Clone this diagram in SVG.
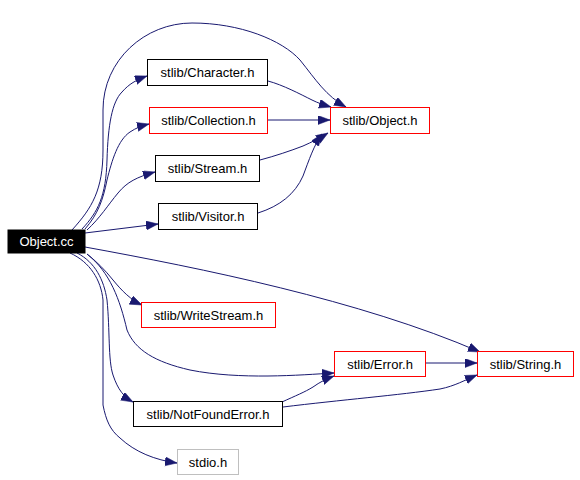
<svg xmlns="http://www.w3.org/2000/svg" width="580" height="480" viewBox="0 0 580 480">
<style>
.n rect{fill:#fff;stroke:#000;stroke-width:1}
.n.r rect{stroke:#f00}
.n.g rect{stroke:#bfbfbf}
.n text{font-family:"Liberation Sans",Arial,sans-serif;font-size:13px;text-anchor:middle;fill:#000}
#e path{fill:none;stroke:#191970;stroke-width:1;marker-end:url(#a)}
</style>
<defs>
<marker id="a" markerUnits="userSpaceOnUse" markerWidth="13" markerHeight="10" refX="12" refY="4.5" orient="auto">
<path d="M0,0 L12,4.5 L0,9 z" fill="#191970" stroke="#191970" stroke-width="0.5"/>
</marker>
</defs>
<rect width="580" height="480" fill="#fff"/>
<g id="e">
<path d="M72,230 C92,208 103,190 103,150 L103,110 C103,60 145,23 192,23 C240,23 282,40 300,60 C316,80 326,96 346,107"/>
<path d="M82,229 C98,212 106,196 107,160 C108,125 112,102 122,92 C129,84 136,80 147,76"/>
<path d="M85,229 C98,214 103,200 107,180 C112,160 118,140 130,132 C136,128 141,126 149,124"/>
<path d="M87,230 C100,218 108,205 118,193 C127,182 137,177 155,172"/>
<path d="M85,233 L158,224"/>
<path d="M268,81 C283,85 300,94 312,100 C318,103 324,105 331,107"/>
<path d="M267,120 L330,120"/>
<path d="M260,160 C275,156 290,151 303,146 C312,142 320,138 328,133"/>
<path d="M258,213 C280,206 295,194 303,176 C309,160 314,145 322,134"/>
<path d="M85,247 C200,268 360,300 480,352"/>
<path d="M87,254 C97,262 105,270 113,280 C122,291 131,300 142,305"/>
<path d="M87,254 C110,272 120,300 127,330 C135,350 155,362 190,370 C240,380 300,375 334,373"/>
<path d="M77,253 C95,262 104,280 107,300 C110,330 108,360 113,375 C118,390 124,397 133,402"/>
<path d="M70,253 C90,262 101,280 103,300 L103,405 C106,420 110,430 120,438 C135,452 155,460 177,463"/>
<path d="M282,402 C295,396 305,392 313,387 C320,382 326,379 334,376"/>
<path d="M283,407 C340,400 400,395 440,389 C455,386 465,380 477,375"/>
<path d="M425,363 L477,363"/>
</g>
<g id="objectcc"><rect x="8" y="230" width="77" height="23" fill="#000" stroke="#000"/><text x="46.5" y="246" style="font-family:'Liberation Sans',Arial,sans-serif;font-size:13px;text-anchor:middle" fill="#fff">Object.cc</text></g>
<g id="character" class="n"><rect x="147.5" y="59.5" width="120" height="26"/><text x="207.5" y="77">stlib/Character.h</text></g>
<g id="collection" class="n r"><rect x="149.5" y="107.5" width="118" height="26"/><text x="208.5" y="125">stlib/Collection.h</text></g>
<g id="stream" class="n"><rect x="155.5" y="155.5" width="104" height="26"/><text x="207.5" y="173">stlib/Stream.h</text></g>
<g id="visitor" class="n"><rect x="158.5" y="203.5" width="99" height="26"/><text x="208" y="221">stlib/Visitor.h</text></g>
<g id="objecth" class="n r"><rect x="330.5" y="107.5" width="99" height="26"/><text x="380" y="125">stlib/Object.h</text></g>
<g id="writestream" class="n r"><rect x="141.5" y="302.5" width="134" height="25"/><text x="208.5" y="320">stlib/WriteStream.h</text></g>
<g id="error" class="n r"><rect x="334.5" y="351.5" width="91" height="25"/><text x="380" y="369">stlib/Error.h</text></g>
<g id="string" class="n r"><rect x="477.5" y="351.5" width="96" height="25"/><text x="525.5" y="369">stlib/String.h</text></g>
<g id="notfound" class="n"><rect x="133.5" y="401.5" width="149" height="25"/><text x="208" y="419">stlib/NotFoundError.h</text></g>
<g id="stdio" class="n g"><rect x="177.5" y="449.5" width="61" height="25"/><text x="208" y="467">stdio.h</text></g>
</svg>
